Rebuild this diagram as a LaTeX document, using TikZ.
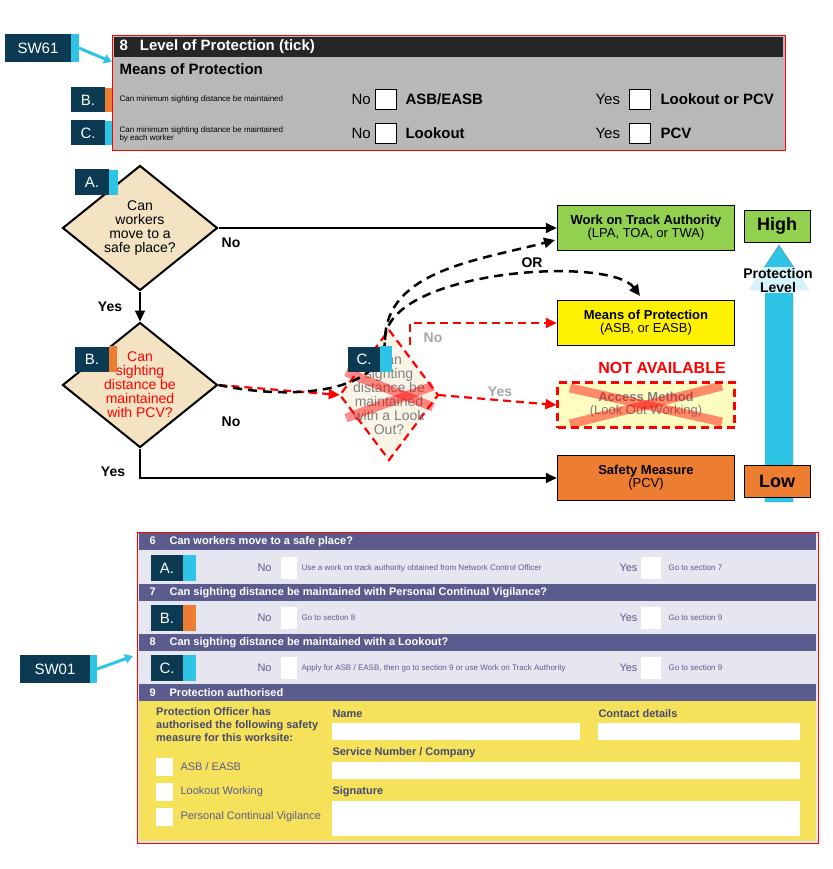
\documentclass[tikz,border=0pt]{standalone}
\usepackage{fontspec}
\setmainfont{Liberation Sans}
\usetikzlibrary{arrows.meta, shapes.geometric, positioning}
\definecolor{navy}{HTML}{0B3A52}
\definecolor{skyc}{HTML}{2EC4E6}
\definecolor{orng}{HTML}{ED7D31}
\definecolor{lgrn}{HTML}{92D050}
\definecolor{wheat}{HTML}{F3E3C3}
\definecolor{formgray}{HTML}{B8B8B8}
\definecolor{purp}{HTML}{5A5C8E}
\definecolor{lrow}{HTML}{E6E6F0}
\definecolor{fyel}{HTML}{F6E15A}
\newcommand{\fs}[1]{\fontsize{#1}{#1}\selectfont}
\begin{document}
\begin{tikzpicture}[x=1pt, y=-1pt, >={Triangle[length=11pt,width=10pt]}]
\tikzstyle{tag} = [fill=navy, text=white, inner sep=0pt, minimum width=34pt, minimum height=25pt, font=\fs{15}]
\tikzstyle{dia} = [diamond, draw, line width=2pt, fill=wheat, aspect=1.24, inner sep=0pt, minimum width=155pt, minimum height=125pt, align=center, font=\fs{14}]
\tikzstyle{box} = [draw, line width=1.5pt, minimum width=177pt, minimum height=45pt, align=center, font=\fs{13}]
\tikzstyle{lbl} = [font=\bfseries\fs{14}]
\tikzstyle{rdash} = [red, line width=2.2pt, dash pattern=on 8pt off 5pt]
\tikzstyle{bdash} = [black, line width=2.5pt, dash pattern=on 9pt off 6pt]
\tikzstyle{cross} = [red, line width=9pt, opacity=0.45]
\useasboundingbox (0,0) rectangle (832,869);

% top form SW61
\draw[red, thick, fill=formgray] (112,35) rectangle (785,150);
\fill[black!85] (114,37) rectangle (783,57);
\node[anchor=west, text=white, font=\bfseries\fs{15}] (h8) at (116,47) {8\hspace{12pt}Level of Protection (tick)};
\node[anchor=west, font=\bfseries\fs{15}] (mop) at (116,69) {Means of Protection};
\node[anchor=west, font=\fs{8}] (q1) at (116,99) {Can minimum sighting distance be maintained};
\node[anchor=west, font=\fs{8}, align=left] (q2) at (116,134) {Can minimum sighting distance be maintained\\by each worker};
\foreach \y/\a/\b in {99/ASB\slash EASB/Lookout or PCV, 133/Lookout/PCV} {
  \node[anchor=west, font=\fs{15}] at (348,\y) {No};
  \draw[fill=white] (375,\y-10) rectangle (396,\y+10);
  \node[anchor=west, font=\bfseries\fs{15}] at (402,\y) {\a};
  \node[anchor=west, font=\fs{15}] at (592,\y) {Yes};
  \draw[fill=white] (629,\y-10) rectangle (650,\y+10);
  \node[anchor=west, font=\bfseries\fs{15}] at (657,\y) {\b};
}
\node[tag, minimum width=66pt, minimum height=28pt] (sw61) at (38,48) {SW61};
\fill[skyc] (71,34) rectangle (79,62);
\draw[skyc, line width=3pt, -{Triangle[length=8pt,width=9pt]}] (79,48) -- (112,62);
\node[tag] (tb1) at (88,100) {B.};
\fill[orng] (105,88) rectangle (112,112);
\node[tag] (tc1) at (88,133) {C.};
\fill[skyc] (105,121) rectangle (112,145);

% flowchart
\node[dia] (da) at (140,228) {Can\\workers\\move to a\\safe place?};
\node[dia, text=red] (db) at (140,385) {Can\\sighting\\distance be\\maintained\\with PCV?};
\draw[rdash, fill=wheat!40] (389,330) -- (438,395) -- (389,460) -- (340,395) -- cycle;
\node[inner sep=0pt, minimum width=98pt, minimum height=130pt, text=gray, align=center, font=\fs{14}] (dc) at (389,395) {Can\\sighting\\distance be\\maintained\\with a Look\\Out?};
\draw[cross] (346,372) -- (433,407);
\draw[cross] (346,418) -- (433,386);
\node[tag] (ta) at (92,182) {A.};
\fill[skyc] (109,170) rectangle (118,195);
\node[tag] (tb) at (92,359) {B.};
\fill[orng] (109,346) rectangle (117,372);

\node[box, fill=lgrn] (wota) at (646,228) {\textbf{Work on Track Authority}\\(LPA, TOA, or TWA)};
\node[box, fill=yellow] (mp) at (646,323) {\textbf{Means of Protection}\\(ASB, or EASB)};
\node[box, rdash, draw=red, fill=yellow!25, text=gray] (am) at (646,405) {\textbf{Access Method}\\(Look Out Working)};
\draw[cross] (570,388) -- (722,422);
\draw[cross] (570,424) -- (722,386);
\node[box, fill=orng] (sm) at (646,478) {\textbf{Safety Measure}\\(PCV)};
\node[red, font=\bfseries\fs{16}] (na) at (662,368) {NOT AVAILABLE};

\draw[line width=2pt, ->] (da.east) -- (wota.west);
\node[lbl] at (231,243) {No};
\draw[line width=2pt, ->] (da.south) -- (db.north);
\node[lbl] at (110,307) {Yes};
\draw[rdash, ->] (db.east) -- (dc.west);
\node[lbl] at (231,422) {No};
\draw[line width=2pt, ->] (db.south) |- (sm.west);
\node[lbl] at (113,472) {Yes};
\draw[bdash, ->] (db.east) .. controls (300,402) and (384,390) .. (385,340) .. controls (386,270) and (480,260) .. (555,240);
\draw[bdash, ->] (385,340) .. controls (386,270) and (610,255) .. (640,296);
\node[lbl] at (532,263) {OR};
\draw[rdash, ->] (410,345) -- (410,323) -- (mp.west);
\node[lbl, gray!70] at (433,338) {No};
\draw[rdash, ->] (dc.east) -- (am.west);
\node[lbl, gray!70] at (500,392) {Yes};
\node[tag, minimum width=32pt] (tc) at (364,359) {C.};
\fill[skyc] (380,346) rectangle (392,372);

% protection level scale
\fill[skyc, draw=navy!60] (765,502) -- (765,290) -- (749,290) -- (779,245) -- (809,290) -- (793,290) -- (793,502) -- cycle;
\node[draw, fill=lgrn, minimum width=66pt, minimum height=32pt, font=\bfseries\fs{18}] (hi) at (777,226) {High};
\node[draw, fill=orng, minimum width=66pt, minimum height=32pt, font=\bfseries\fs{18}] (lo) at (777,481) {Low};
\node[fill=white, fill opacity=0.8, text opacity=1, inner sep=1pt, align=center, font=\bfseries\fs{14}] (pl) at (778,280) {Protection\\Level};

% bottom form SW01
\draw[red, thick, fill=lrow] (137,532) rectangle (818,843);
\foreach \y/\t in {533/6\hspace{14pt}Can workers move to a safe place?, 584/7\hspace{14pt}Can sighting distance be maintained with Personal Continual Vigilance?, 634/8\hspace{14pt}Can sighting distance be maintained with a Lookout?, 684/9\hspace{14pt}Protection authorised} {
  \fill[purp] (139,\y) rectangle (816,\y+17);
  \node[anchor=west, text=white, font=\bfseries\fs{11}] at (146,\y+8.5) {\t};
}
\foreach \y/\l/\c/\a/\b in {568/A./skyc/Use a work on track authority obtained from Network Control Officer/Go to section 7,
  618/B./orng/Go to section 8/Go to section 9,
  668/C./skyc/{Apply for ASB \slash\ EASB, then go to section 9 or use Work on Track Authority}/Go to section 9} {
  \node[tag, minimum width=32pt, minimum height=26pt] at (167,\y) {\l};
  \fill[\c] (183,\y-13) rectangle (196,\y+13);
  \node[anchor=west, text=purp, font=\fs{11}] at (254,\y) {No};
  \fill[white] (281,\y-11) rectangle (297,\y+11);
  \node[anchor=west, text=purp, font=\fs{8}] at (298,\y) {\a};
  \node[anchor=west, text=purp, font=\fs{11}] at (616,\y) {Yes};
  \fill[white] (641,\y-11) rectangle (661,\y+11);
  \node[anchor=west, text=purp, font=\fs{8}] at (665,\y) {\b};
}
\fill[fyel] (139,701) rectangle (816,841);
\node[anchor=north west, align=left, text=purp!80!black, font=\bfseries\fs{11}, inner sep=0pt] (po) at (156,707) {Protection Officer has\\[2pt]authorised the following safety\\[2pt]measure for this worksite:};
\foreach \y/\t in {767/{ASB \slash\ EASB}, 792/Lookout Working, 817/Personal Continual Vigilance} {
  \fill[white] (156,\y-9) rectangle (173,\y+9);
  \node[anchor=west, text=purp, font=\fs{11}] at (177,\y) {\t};
}
\node[anchor=west, text=purp!80!black, font=\bfseries\fs{11}] (nm) at (329,714) {Name};
\fill[white] (332,723) rectangle (580,740);
\node[anchor=west, text=purp!80!black, font=\bfseries\fs{11}] (cd) at (595,714) {Contact details};
\fill[white] (598,723) rectangle (800,740);
\node[anchor=west, text=purp!80!black, font=\bfseries\fs{11}] (sn) at (329,753) {Service Number / Company};
\fill[white] (332,762) rectangle (800,779);
\node[anchor=west, text=purp!80!black, font=\bfseries\fs{11}] (sg) at (329,792) {Signature};
\fill[white] (332,801) rectangle (800,836);

\node[tag, minimum width=70pt, minimum height=28pt] (sw01) at (55,669) {SW01};
\fill[skyc] (90,655) rectangle (97,683);
\draw[skyc, line width=3pt, -{Triangle[length=8pt,width=9pt]}] (97,669) -- (133,656);
\end{tikzpicture}
\end{document}
